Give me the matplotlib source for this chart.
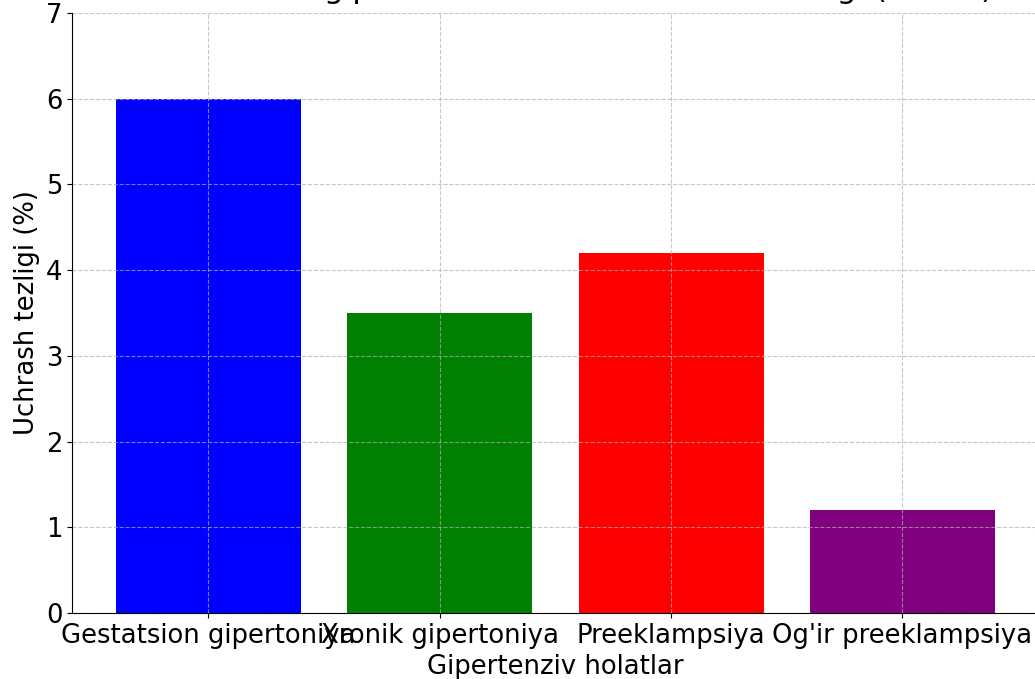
import matplotlib.pyplot as plt

# Ma'lumotlar
holatlar = ['Gestatsion gipertoniya', 'Xronik gipertoniya', 'Preeklampsiya', "Og'ir preeklampsiya"]
tezlik = [6.0, 3.5, 4.2, 1.2]
ranglar = ['blue', 'green', 'red', 'purple']

fig = plt.figure(figsize=(10.35, 6.79), dpi=100)
ax = fig.add_axes([0.0696, 0.0972, 0.934, 0.8837])

ax.bar(holatlar, tezlik, color=ranglar)
ax.set_title('Homiladorlik gipertenziv holatlar uchrash tezligi (foizda)', fontsize=22.4, pad=11)
ax.set_xlabel('Gipertenziv holatlar', fontsize=18.6)
ax.set_ylabel('Uchrash tezligi (%)', fontsize=18.6)
ax.tick_params(axis='both', labelsize=18.6)
ax.set_ylim(0, 7)
ax.grid(True, linestyle='--', alpha=0.7)
ax.spines['top'].set_visible(False)
ax.spines['right'].set_visible(False)

plt.savefig('out.png', dpi=100)
plt.close()
